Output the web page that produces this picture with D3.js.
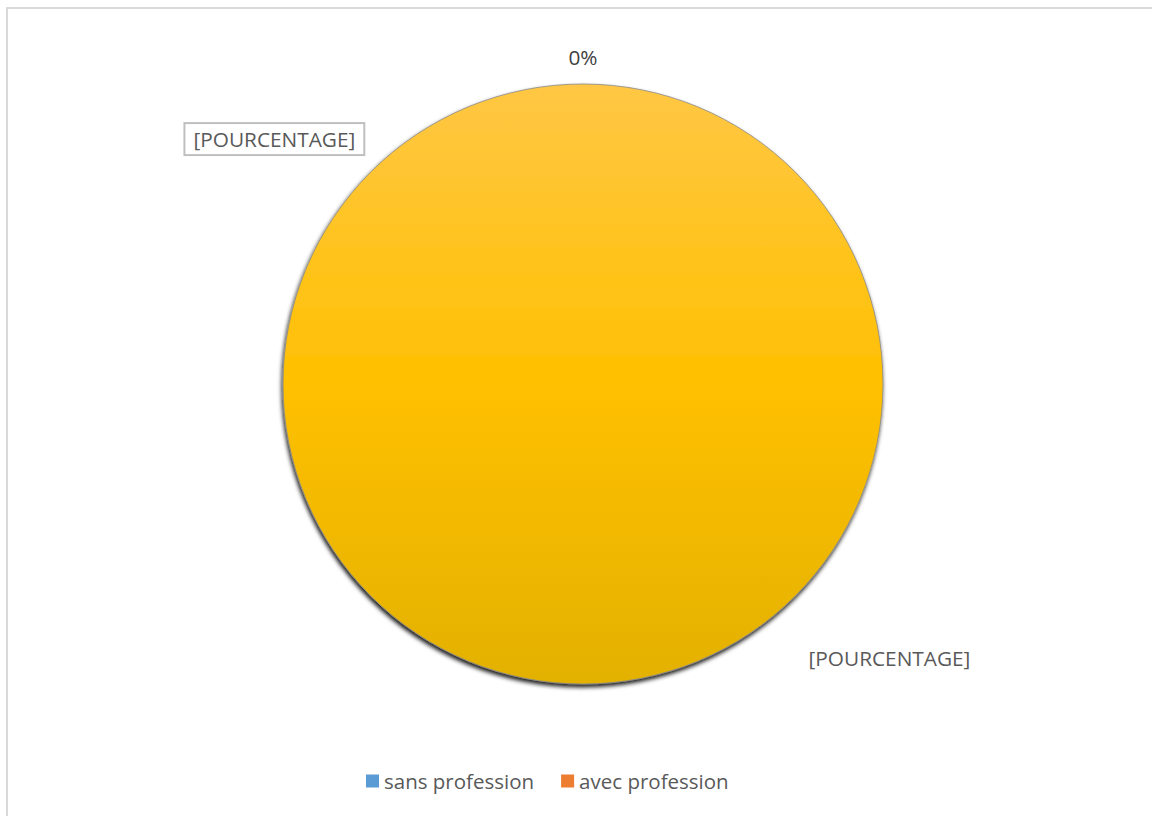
<!DOCTYPE html>
<html>
<head>
<meta charset="utf-8">
<script src="https://cdn.jsdelivr.net/npm/d3@7"></script>
<style>
  html, body { margin: 0; padding: 0; background: #fff; }
  svg { display: block; font-family: "Open Sans", "Noto Sans", sans-serif; }
</style>
</head>
<body>
<svg id="chart" width="1152" height="816"></svg>
<script>
// Series shown in the pie; only the first two appear in the legend
const categories = ["sans profession", "avec profession", "autre"];
const values = [0, 0, 100];
const labelTexts = ["0%", "[POURCENTAGE]", "[POURCENTAGE]"];
const legendCategories = ["sans profession", "avec profession"];
const sliceColors = ["#5B9BD5", "#ED7D31", "#FFC000"];

const svg = d3.select("#chart");
const W = 1152, H = 816;

// Chart area frame
svg.append("rect")
  .attr("x", 7).attr("y", 8)
  .attr("width", W + 10).attr("height", H + 10)
  .attr("fill", "#fff")
  .attr("stroke", "#d9d9d9").attr("stroke-width", 2);

const defs = svg.append("defs");
const grad = defs.append("linearGradient")
  .attr("id", "goldGrad").attr("x1", 0).attr("y1", 0).attr("x2", 0).attr("y2", 1);
grad.append("stop").attr("offset", "0%").attr("stop-color", "#FFC745");
grad.append("stop").attr("offset", "50%").attr("stop-color", "#FFC000");
grad.append("stop").attr("offset", "100%").attr("stop-color", "#E3B100");

const shadow = defs.append("filter").attr("id", "pieShadow")
  .attr("x", "-10%").attr("y", "-10%").attr("width", "120%").attr("height", "120%");
shadow.append("feDropShadow")
  .attr("dx", -1).attr("dy", 3).attr("stdDeviation", 2)
  .attr("flood-color", "#000").attr("flood-opacity", 0.9);

const cx = 583, cy = 384, r = 300;

const pie = d3.pie().sort(null).value(d => d.value);
const data = categories.map((c, i) => ({ name: c, value: values[i], color: sliceColors[i], label: labelTexts[i] }));
const arcs = pie(data);
const arc = d3.arc().innerRadius(0).outerRadius(r);

const g = svg.append("g").attr("transform", `translate(${cx},${cy})`);

g.selectAll("path.slice")
  .data(arcs.filter(a => a.value > 0))
  .join("path")
  .attr("class", "slice")
  .attr("d", arc)
  .attr("fill", d => d.data.name === "autre" ? "url(#goldGrad)" : d.data.color)
  .attr("stroke", "#8a8a8a")
  .attr("stroke-width", 0.8)
  .attr("filter", "url(#pieShadow)");

// Data labels: placed around the pie at angles derived from the slice geometry
const labelPlacements = [
  { angle: a => (a.startAngle + a.endAngle) / 2, dist: 327, boxed: false },
  { angle: a => a.startAngle - 0.90, dist: 394, boxed: true },
  { angle: a => a.startAngle + 2.3, dist: 411, boxed: false }
];

arcs.forEach((a, i) => {
  const p = labelPlacements[i];
  const ang = p.angle(a);
  const x = Math.sin(ang) * p.dist;
  const y = -Math.cos(ang) * p.dist;
  const t = g.append("text")
    .attr("x", x).attr("y", y)
    .attr("text-anchor", "middle")
    .attr("dominant-baseline", "central")
    .attr("font-size", 20.8)
    .attr("fill", i === 0 ? "#404040" : "#595959")
    .text(a.data.label);
  if (p.boxed) {
    const bb = t.node().getBBox();
    g.insert("rect", "text")
      .attr("x", bb.x - 9).attr("y", bb.y - 2)
      .attr("width", bb.width + 18).attr("height", bb.height + 4)
      .attr("fill", "#fff")
      .attr("stroke", "#bfbfbf").attr("stroke-width", 2);
  }
});

// Legend
const legend = svg.append("g").attr("transform", "translate(366, 781)");
let lx = 0;
legendCategories.forEach((name, i) => {
  const item = legend.append("g").attr("transform", `translate(${lx},0)`);
  item.append("rect")
    .attr("x", 0).attr("y", -6.5).attr("width", 13).attr("height", 13)
    .attr("fill", sliceColors[i]);
  const t = item.append("text")
    .attr("x", 18).attr("y", 0)
    .attr("dominant-baseline", "central")
    .attr("font-size", 20.5)
    .attr("fill", "#595959")
    .text(name);
  lx += 18 + t.node().getComputedTextLength() + 27;
});
</script>
</body>
</html>
